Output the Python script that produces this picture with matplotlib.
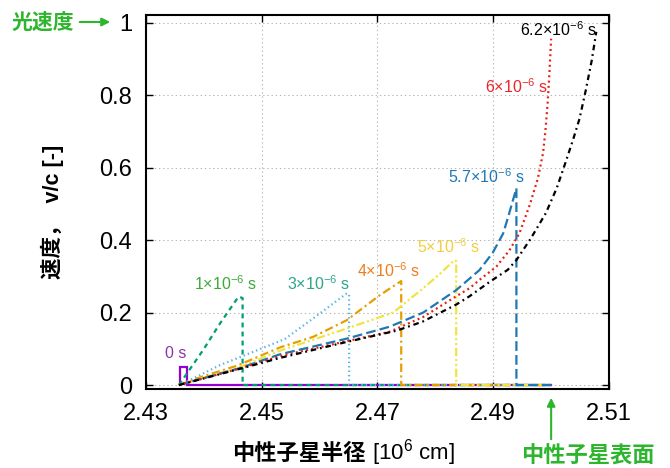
import matplotlib
matplotlib.use("Agg")
import matplotlib.pyplot as plt

plt.rcParams['font.family'] = ['Liberation Sans', 'Noto Sans CJK JP', 'DejaVu Sans']
plt.rcParams['mathtext.fontset'] = 'custom'
plt.rcParams['mathtext.rm'] = 'Liberation Sans'
plt.rcParams['mathtext.default'] = 'regular'
plt.rcParams['lines.scale_dashes'] = False

# ---------------- data ----------------
x_ticks = [2.43, 2.45, 2.47, 2.49, 2.51]
x_ticklabels = ['2.43', '2.45', '2.47', '2.49', '2.51']
y_ticks = [0, 0.2, 0.4, 0.6, 0.8, 1.0]
y_ticklabels = ['0', '0.2', '0.4', '0.6', '0.8', '1']

r_t0 = [2.4358, 2.4358, 2.4371, 2.4371, 2.5000]
v_t0 = [0.0, 0.050, 0.050, 0.0, 0.0]

r_t1 = [2.4357, 2.4399, 2.4428, 2.4460, 2.4467, 2.4467, 2.5000]
v_t1 = [0.0, 0.097, 0.170, 0.244, 0.240, 0.0, 0.0]

r_t3 = [2.4357, 2.4388, 2.4428, 2.4486, 2.4540, 2.4589, 2.4647, 2.4651, 2.4651, 2.5000]
v_t3 = [0.0, 0.023, 0.055, 0.092, 0.127, 0.184, 0.253, 0.250, 0.0, 0.0]

r_t4 = [2.4357, 2.4399, 2.4457, 2.4532, 2.4589, 2.4647, 2.4704, 2.4741, 2.4741, 2.5000]
v_t4 = [0.0, 0.024, 0.053, 0.104, 0.133, 0.179, 0.248, 0.287, 0.0, 0.0]

r_t5 = [2.4357, 2.4463, 2.4532, 2.4647, 2.4727, 2.4779, 2.4810, 2.4833, 2.4836, 2.4836, 2.5000]
v_t5 = [0.0, 0.050, 0.095, 0.156, 0.200, 0.267, 0.310, 0.345, 0.342, 0.0, 0.0]

r_t57 = [2.4357, 2.4463, 2.4532, 2.4647, 2.4721, 2.4779, 2.4836, 2.4876, 2.4899,
         2.4917, 2.4925, 2.4934, 2.4940, 2.4940, 2.5000]
v_t57 = [0.0, 0.047, 0.085, 0.128, 0.161, 0.200, 0.262, 0.317, 0.365,
         0.418, 0.460, 0.510, 0.543, 0.0, 0.0]

r_t6 = [2.4357, 2.4463, 2.4532, 2.4647, 2.4721, 2.4779, 2.4836, 2.4859, 2.4876, 2.4905,
        2.4928, 2.4945, 2.4963, 2.4977, 2.4986, 2.4990, 2.4994, 2.4997, 2.5000]
v_t6 = [0.0, 0.046, 0.080, 0.121, 0.147, 0.188, 0.245, 0.267, 0.290, 0.326,
        0.372, 0.418, 0.497, 0.570, 0.640, 0.700, 0.780, 0.860, 0.956]

r_t62 = [2.4357, 2.4463, 2.4532, 2.4647, 2.4733, 2.4778, 2.4836, 2.4859, 2.4894, 2.4925,
         2.4940, 2.4965, 2.4991, 2.5010, 2.5026, 2.5038, 2.5049, 2.5060, 2.5070, 2.5078]
v_t62 = [0.0, 0.045, 0.075, 0.119, 0.150, 0.175, 0.222, 0.245, 0.285, 0.318,
         0.345, 0.405, 0.475, 0.545, 0.620, 0.678, 0.735, 0.815, 0.895, 0.975]

series_labels = ['0 s', r'1×10$^{-6}$ s', r'3×10$^{-6}$ s', r'4×10$^{-6}$ s',
                 r'5×10$^{-6}$ s', r'5.7×10$^{-6}$ s', r'6×10$^{-6}$ s', r'6.2×10$^{-6}$ s']
label_pos = [(2.4351, 0.088), (2.4438, 0.281), (2.4599, 0.281), (2.4720, 0.317),
             (2.4823, 0.381), (2.4888, 0.574), (2.4940, 0.825), (2.5013, 0.982)]

# ---------------- styles ----------------
line_colors = ['#9400D3', '#009E73', '#56B4E9', '#E69F00', '#F0E442', '#1f78b4', '#E51E10', '#000000']
text_colors = ['#8e35a8', '#3aaa35', '#2aa68a', '#ee7d1e', '#f2cf3a', '#1f78b4', '#e8262a', '#000000']
dash_styles = ['-', (0, (3.5, 3.0)), (0, (1.0, 2.2)), (0, (6, 2.5, 1.5, 2.5)),
               (0, (6, 2, 1.5, 2, 1.5, 2)), (0, (7, 3)), (0, (1.4, 2.4)), (0, (4, 2.8, 1.3, 2.8))]

green = '#2db52d'

fig = plt.figure(figsize=(6.7, 4.68), dpi=100)
ax = fig.add_axes([0.2178, 0.1688, 0.6912, 0.799])

series = [(r_t0, v_t0), (r_t1, v_t1), (r_t3, v_t3), (r_t4, v_t4),
          (r_t5, v_t5), (r_t57, v_t57), (r_t6, v_t6), (r_t62, v_t62)]
for (r, v), c, ls in zip(series, line_colors, dash_styles):
    ax.plot(r, v, color=c, linestyle=ls, lw=1.6, solid_joinstyle='miter')

for s, (x, y), c in zip(series_labels, label_pos, text_colors):
    ax.text(x, y, s, color=c, fontsize=11.5, ha='center', va='center')

ax.set_xlim(2.43, 2.51)
ax.set_ylim(-0.011, 1.0213)
ax.set_xticks(x_ticks)
ax.set_xticklabels(x_ticklabels)
ax.set_yticks(y_ticks)
ax.set_yticklabels(y_ticklabels)
ax.tick_params(direction='in', length=5, width=1, top=True, right=True,
               labelsize=17, pad=10)
ax.grid(True, color='#b8b8b8', linestyle=(0, (1, 2)), lw=0.8)
for sp in ax.spines.values():
    sp.set_linewidth(1.5)

# y label
fig.text(52 / 670, 1 - 212 / 468, '速度，  v/c [-]', rotation=90, ha='center', va='center',
         fontsize=15.5, fontweight='bold')

# x label in two parts sharing the baseline
bx, by = 366 / 670, 1 - 460 / 468
fig.text(bx, by, '中性子星半径', ha='right', va='baseline', fontsize=16, fontweight='bold',
         family=['Noto Sans CJK JP'])
fig.text(bx, by, r' [10$^{6}$ cm]', ha='left', va='baseline', fontsize=16)

# speed of light marker
fig.text(12 / 670, 1 - 22 / 468, '光速度', ha='left', va='center', fontsize=15,
         fontweight='bold', color=green, family=['Noto Sans CJK JP'])
ax.annotate('', xy=(113 / 670, 1 - 22 / 468), xytext=(77 / 670, 1 - 22 / 468),
            xycoords='figure fraction', textcoords='figure fraction',
            arrowprops=dict(arrowstyle='-|>', color=green, lw=1.5, mutation_scale=12),
            annotation_clip=False)

# neutron star surface marker
ax.annotate('', xy=(2.5, 1 - 395 / 468), xytext=(2.5, 1 - 442 / 468),
            xycoords=('data', 'figure fraction'), textcoords=('data', 'figure fraction'),
            arrowprops=dict(arrowstyle='-|>', color=green, lw=1.5, mutation_scale=12),
            annotation_clip=False)
fig.text(588 / 670, 1 - 456 / 468, '中性子星表面', ha='center', va='center', fontsize=16,
         fontweight='bold', color=green, family=['Noto Sans CJK JP'])

fig.savefig('out.png', dpi=100)
